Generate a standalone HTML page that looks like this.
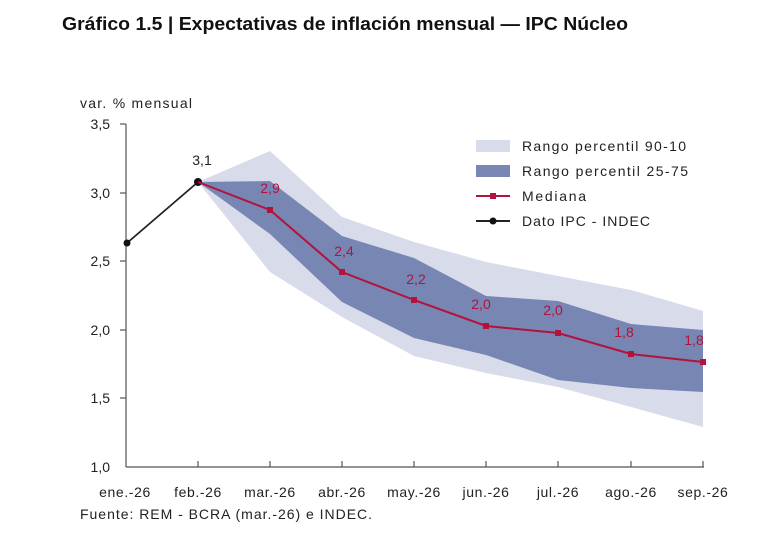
<!DOCTYPE html>
<html><head><meta charset="utf-8"><style>
body{margin:0;background:#fff;}
svg{display:block;font-family:"Liberation Sans",sans-serif;}
</style></head><body>
<svg width="760" height="554" viewBox="0 0 760 554">
<text x="62" y="30" font-size="18" font-weight="bold" fill="#111" textLength="566" lengthAdjust="spacingAndGlyphs">Gráfico 1.5 | Expectativas de inflación mensual — IPC Núcleo</text>
<text x="80" y="108" font-size="14" fill="#222" textLength="112">var. % mensual</text>
<polygon fill="#d7dbea" points="198,182 270,151 342,217 414,242 486,262 558,276 631,290 703,311 703,427 631,407 558,387 486,373 414,356 342,317 270,272"/>
<polygon fill="#7886b3" points="198,182 270,181 342,236 414,258 486,296 558,301 631,324 703,330 703,392 631,388 558,380 486,355 414,338 342,302 270,234"/>
<g stroke="#555" stroke-width="1.2">
<line x1="126" y1="124" x2="126" y2="467"/>
<line x1="126" y1="467" x2="704" y2="467"/>
<line x1="120" y1="124" x2="126" y2="124"/><line x1="120" y1="193" x2="126" y2="193"/><line x1="120" y1="261" x2="126" y2="261"/><line x1="120" y1="330" x2="126" y2="330"/><line x1="120" y1="398" x2="126" y2="398"/>
<line x1="198" y1="461" x2="198" y2="467"/><line x1="270" y1="461" x2="270" y2="467"/><line x1="342" y1="461" x2="342" y2="467"/><line x1="414" y1="461" x2="414" y2="467"/><line x1="486" y1="461" x2="486" y2="467"/><line x1="558" y1="461" x2="558" y2="467"/><line x1="631" y1="461" x2="631" y2="467"/><line x1="703" y1="461" x2="703" y2="467"/>
</g>
<g font-size="14" fill="#222" text-anchor="end">
<text x="110" y="129">3,5</text><text x="110" y="198">3,0</text><text x="110" y="266">2,5</text><text x="110" y="335">2,0</text><text x="110" y="403">1,5</text><text x="110" y="472">1,0</text>
</g>
<g font-size="14" fill="#222" text-anchor="middle" letter-spacing="0.6">
<text x="125" y="497">ene.-26</text><text x="198" y="497">feb.-26</text><text x="270" y="497">mar.-26</text><text x="342" y="497">abr.-26</text><text x="414" y="497">may.-26</text><text x="486" y="497">jun.-26</text><text x="558" y="497">jul.-26</text><text x="631" y="497">ago.-26</text><text x="703" y="497">sep.-26</text>
</g>
<text x="80" y="519" font-size="14" fill="#222" textLength="292">Fuente: REM - BCRA (mar.-26) e INDEC.</text>
<polyline fill="none" stroke="#222" stroke-width="1.8" points="127,243 198,182"/>
<circle cx="127" cy="243" r="3.5" fill="#111"/><circle cx="198" cy="182" r="4" fill="#111"/>
<text x="202" y="165" font-size="14" fill="#222" text-anchor="middle">3,1</text>
<polyline fill="none" stroke="#b3123c" stroke-width="2" points="198,182 270,210 342,272 414,300 486,326 558,333 631,354 703,362"/>
<g fill="#b3123c">
<rect x="267" y="207" width="6" height="6"/><rect x="339" y="269" width="6" height="6"/><rect x="411" y="297" width="6" height="6"/><rect x="483" y="323" width="6" height="6"/><rect x="555" y="330" width="6" height="6"/><rect x="628" y="351" width="6" height="6"/><rect x="700" y="359" width="6" height="6"/>
</g>
<g font-size="14" fill="#b3123c" text-anchor="middle">
<text x="270" y="193">2,9</text><text x="344" y="256">2,4</text><text x="416" y="284">2,2</text><text x="481" y="309">2,0</text><text x="553" y="315">2,0</text><text x="624" y="337">1,8</text><text x="694" y="345">1,8</text>
</g>
<rect x="476" y="140" width="34" height="12" fill="#d7dbea"/>
<text x="522" y="151" font-size="14" fill="#222" textLength="164">Rango percentil 90-10</text>
<rect x="476" y="165" width="34" height="12" fill="#7886b3"/>
<text x="522" y="176" font-size="14" fill="#222" textLength="166">Rango percentil 25-75</text>
<line x1="476" y1="196" x2="510" y2="196" stroke="#b3123c" stroke-width="2"/><rect x="490" y="193" width="6" height="6" fill="#b3123c"/>
<text x="522" y="201" font-size="14" fill="#222" textLength="64">Mediana</text>
<line x1="476" y1="221" x2="510" y2="221" stroke="#222" stroke-width="2"/><circle cx="493" cy="221" r="3.5" fill="#111"/>
<text x="522" y="226" font-size="14" fill="#222" textLength="128">Dato IPC - INDEC</text>
</svg>
</body></html>
